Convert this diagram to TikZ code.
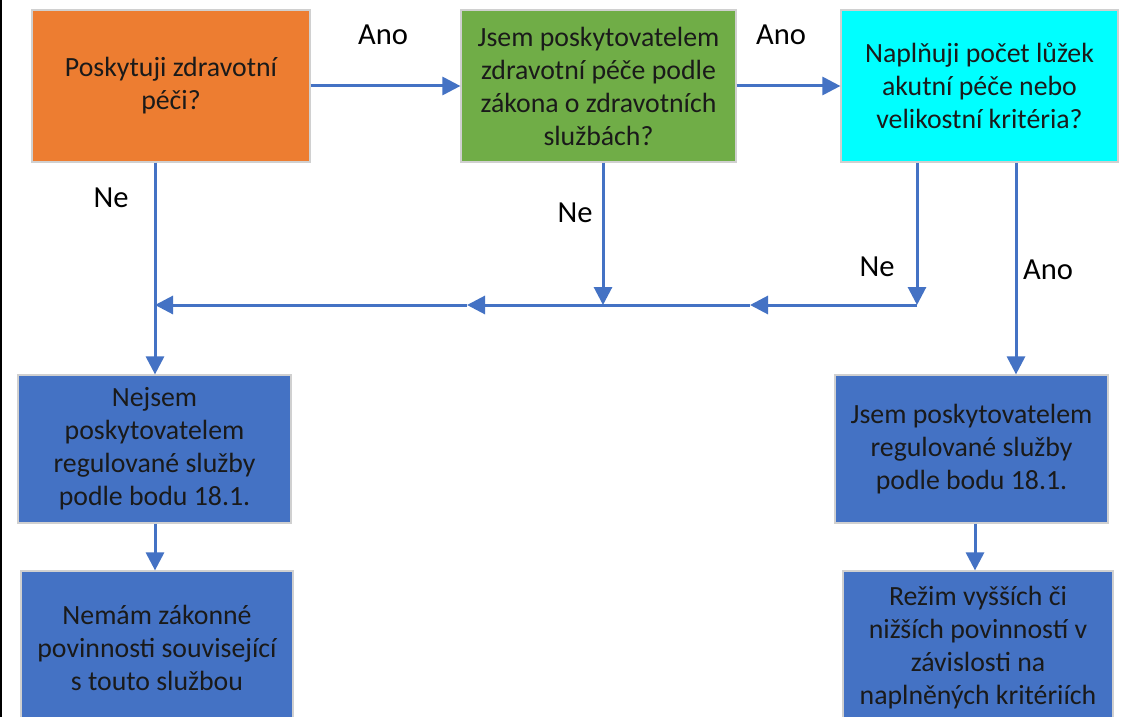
\documentclass[tikz,border=0pt]{standalone}
\usepackage{fontspec}
\setmainfont{Carlito}
\usetikzlibrary{arrows.meta}
\definecolor{cOrange}{HTML}{ED7D31}
\definecolor{cGreen}{HTML}{70AD47}
\definecolor{cCyan}{HTML}{00FFFF}
\definecolor{cBlue}{HTML}{4472C4}
\definecolor{cEdge}{HTML}{D0D0D0}
\definecolor{cText}{HTML}{1A1A1A}
\begin{document}
\begin{tikzpicture}[x=0.5pt,y=-0.5pt,
  box/.style={draw=cEdge, line width=0.6pt, rectangle, align=center, inner sep=0pt,
    text=cText, font=\fontsize{13.9pt}{16.5pt}\selectfont},
  conn/.style={draw=cBlue, line width=1.5pt},
  arr/.style={conn, -{Triangle[length=9pt,width=9pt]}},
  lbl/.style={font=\fontsize{15.3pt}{18pt}\selectfont, text=black, inner sep=0pt}]
\useasboundingbox (0,0) rectangle (1124,717);
\clip (0,0) rectangle (1124,717);
\fill[white] (0,0) rectangle (1124,717);
\fill[black] (0,0) rectangle (2,717);

% boxes
\node[box, fill=cOrange, minimum width=139pt, minimum height=76pt] (q1) at (171,86)
  {Poskytuji zdravotní\\péči?};
\node[box, fill=cGreen, minimum width=137.5pt, minimum height=76pt] (q2) at (598.5,86)
  {Jsem poskytovatelem\\zdravotní péče podle\\zákona o zdravotních\\službách?};
\node[box, fill=cCyan, minimum width=138.5pt, minimum height=76pt] (q3) at (979.5,86)
  {Naplňuji počet lůžek\\akutní péče nebo\\velikostní kritéria?};
\node[box, fill=cBlue, minimum width=136.5pt, minimum height=74pt] (l1) at (154.5,449)
  {Nejsem\\poskytovatelem\\regulované služby\\podle bodu 18.1.};
\node[box, fill=cBlue, minimum width=136pt, minimum height=77pt] (l2) at (157,648)
  {Nemám zákonné\\povinnosti související\\s touto službou};
\node[box, fill=cBlue, minimum width=136.5pt, minimum height=74pt] (r1) at (971.5,449)
  {Jsem poskytovatelem\\regulované služby\\podle bodu 18.1.};
\node[box, fill=cBlue, minimum width=135pt, minimum height=77pt] (r2) at (978,648)
  {Režim vyšších či\\nižších povinností v\\závislosti na\\naplněných kritériích};

% junction coordinates
\coordinate (jl) at (155,305);
\coordinate (jm) at (603,305);
\coordinate (jr) at (917,305);
\coordinate (ja) at (750,305);
\coordinate (jb) at (467,305);

% connectors
\draw[arr] (q1.east) -- (q2.west);
\draw[arr] (q2.east) -- (q3.west);
\draw[arr] (q1.south -| jl) -- (l1.north -| jl);
\draw[arr] (q2.south -| jm) -- (jm);
\draw[arr] (q3.south -| jr) -- (jr);
\draw[arr] (jr) -- (ja);
\draw[arr] (ja) -- (jb);
\draw[arr] (jb) -- (jl);
\draw[arr] (q3.south -| 1016,0) -- (r1.north -| 1016,0);
\draw[arr] (l1.south -| jl) -- (l2.north -| jl);
\draw[arr] (r1.south -| 975,0) -- (r2.north -| 975,0);

% labels
\node[lbl] (a1) at (383,35) {Ano};
\node[lbl] (a2) at (781,35) {Ano};
\node[lbl] (n1) at (111,198) {Ne};
\node[lbl] (n2) at (575,213) {Ne};
\node[lbl] (n3) at (877,267) {Ne};
\node[lbl] (a3) at (1048,270) {Ano};
\end{tikzpicture}
\end{document}
